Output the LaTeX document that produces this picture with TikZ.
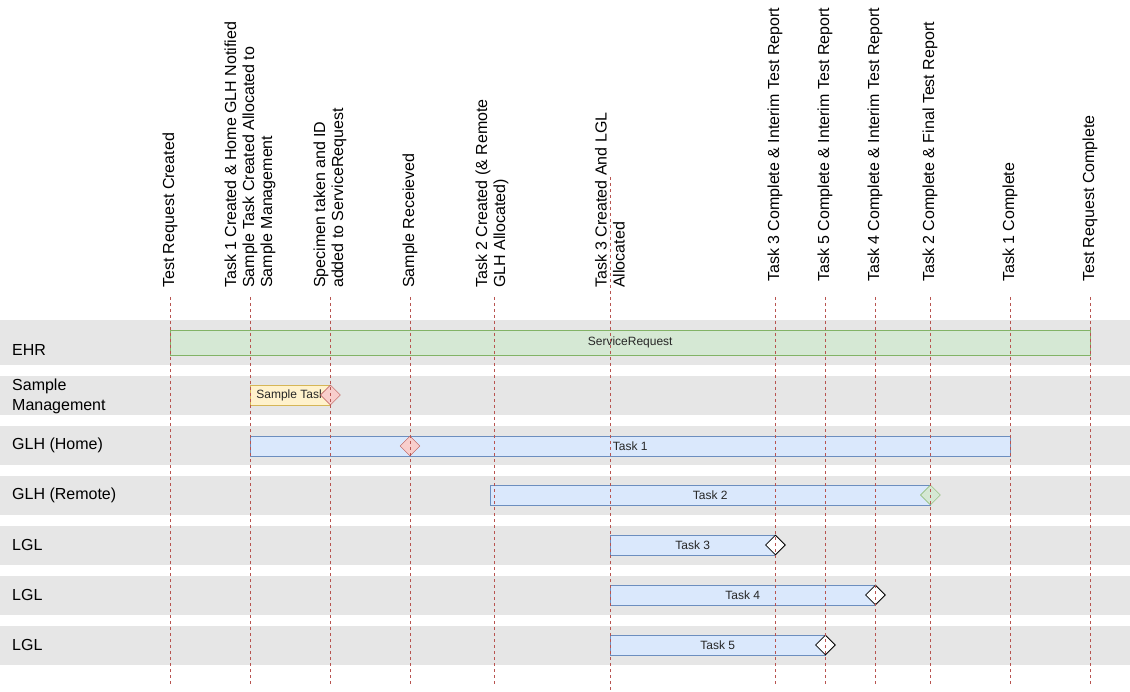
\documentclass[tikz,border=0pt]{standalone}
\usepackage{fontspec}
\setmainfont{Liberation Sans}
\usepackage{tikz}
\usetikzlibrary{shapes.geometric}

\definecolor{lanegray}{HTML}{E6E6E6}
\definecolor{greenfill}{HTML}{D5E8D4}
\definecolor{greenedge}{HTML}{82B366}
\definecolor{yellowfill}{HTML}{FFF2CC}
\definecolor{yellowedge}{HTML}{D6B656}
\definecolor{bluefill}{HTML}{DAE8FC}
\definecolor{blueedge}{HTML}{6C8EBF}
\definecolor{redfill}{HTML}{F8CECC}
\definecolor{rededge}{HTML}{B85450}

\tikzset{
  lane/.style={fill=lanegray, draw=none},
  lanelabel/.style={anchor=west, align=left, inner sep=0pt,
    font=\fontsize{16}{20}\selectfont},
  milestone/.style={rotate=90, anchor=west, align=left, inner sep=0pt,
    font=\fontsize{16}{18}\selectfont},
  bar/.style={anchor=west, minimum height=20pt, inner sep=0pt,
    font=\fontsize{12}{14}\selectfont, text=black!85},
  bluebar/.style={bar, draw=blueedge, fill=bluefill},
  marker/.style={diamond, minimum width=20pt, minimum height=20pt, inner sep=0pt},
  timeline/.style={draw=rededge, dash pattern=on 3pt off 3pt, line width=0.8pt}
}

\begin{document}
\begin{tikzpicture}[x=1pt,y=-1pt]
  \useasboundingbox (0,0) rectangle (1130,692);

  % Swim lanes
  \fill[lane] (0,320) rectangle (1130,365);
  \foreach \y in {376,426,476,526,576,626}
    \fill[lane] (0,\y) rectangle (1130,\y+39);

  % Lane names
  \node[lanelabel] (ehr) at (12,350) {EHR};
  \node[lanelabel] (smgmt) at (12,396) {Sample\\Management};
  \node[lanelabel] (glhhome) at (12,445) {GLH (Home)};
  \node[lanelabel] (glhremote) at (12,495) {GLH (Remote)};
  \node[lanelabel] (lglA) at (12,545) {LGL};
  \node[lanelabel] (lglB) at (12,595) {LGL};
  \node[lanelabel] (lglC) at (12,645) {LGL};

  % Bars
  \node[bar, draw=greenedge, fill=greenfill, minimum width=920pt, minimum height=25pt]
    (servicerequest) at (170,342.5) {ServiceRequest};
  \node[bar, draw=yellowedge, fill=yellowfill, minimum width=80pt, align=left]
    (sampletask) at (250,395) {\hspace*{1pt}Sample Task\hfill};
  \node[bluebar, minimum width=760pt] (task1) at (250,446) {Task 1};
  \node[bluebar, minimum width=440pt] (task2) at (490,495) {Task 2};
  \node[bluebar, minimum width=165pt] (task3) at (610,545) {Task 3};
  \node[bluebar, minimum width=265pt] (task4) at (610,595) {Task 4};
  \node[bluebar, minimum width=215pt] (task5) at (610,645) {Task 5};

  % Diamonds
  \node[marker, draw=rededge, fill=redfill] (sampletaskdone) at (sampletask.east) {};
  \node[marker, draw=rededge, fill=redfill] (samplereceived) at (410,446) {};
  \node[marker, draw=greenedge, fill=greenfill] (task2done) at (task2.east) {};
  \node[marker, draw=black, fill=white, thick] (task3done) at (task3.east) {};
  \node[marker, draw=black, fill=white, thick] (task4done) at (task4.east) {};
  \node[marker, draw=black, fill=white, thick] (task5done) at (task5.east) {};

  % Time lines
  \foreach \x in {170,250,330,410,494,775,825,875,930,1010,1090}
    \draw[timeline] (\x,297) -- (\x,685);
  \draw[timeline] (610,177) -- (610,690);

  % Milestone labels
  \node[milestone] (m1) at (170,288) {Test Request Created};
  \node[milestone] (m2) at (250,288) {Task 1 Created \& Home GLH Notified\\Sample Task Created Allocated to\\Sample Management};
  \node[milestone] (m3) at (330,288) {Specimen taken and ID\\added to ServiceRequest};
  \node[milestone] (m4) at (410,288) {Sample Receieved};
  \node[milestone] (m5) at (492,288) {Task 2 Created (\& Remote\\GLH Allocated)};
  \node[milestone] (m6) at (610,288) {Task 3 Created And LGL\\Allocated};
  \node[milestone] (m7) at (775,282) {Task 3 Complete \& Interim Test Report};
  \node[milestone] (m8) at (825,282) {Task 5 Complete \& Interim Test Report};
  \node[milestone] (m9) at (875,282) {Task 4 Complete \& Interim Test Report};
  \node[milestone] (m10) at (930,282) {Task 2 Complete \& Final Test Report};
  \node[milestone] (m11) at (1010,282) {Task 1 Complete};
  \node[milestone] (m12) at (1090,282) {Test Request Complete};
\end{tikzpicture}
\end{document}
